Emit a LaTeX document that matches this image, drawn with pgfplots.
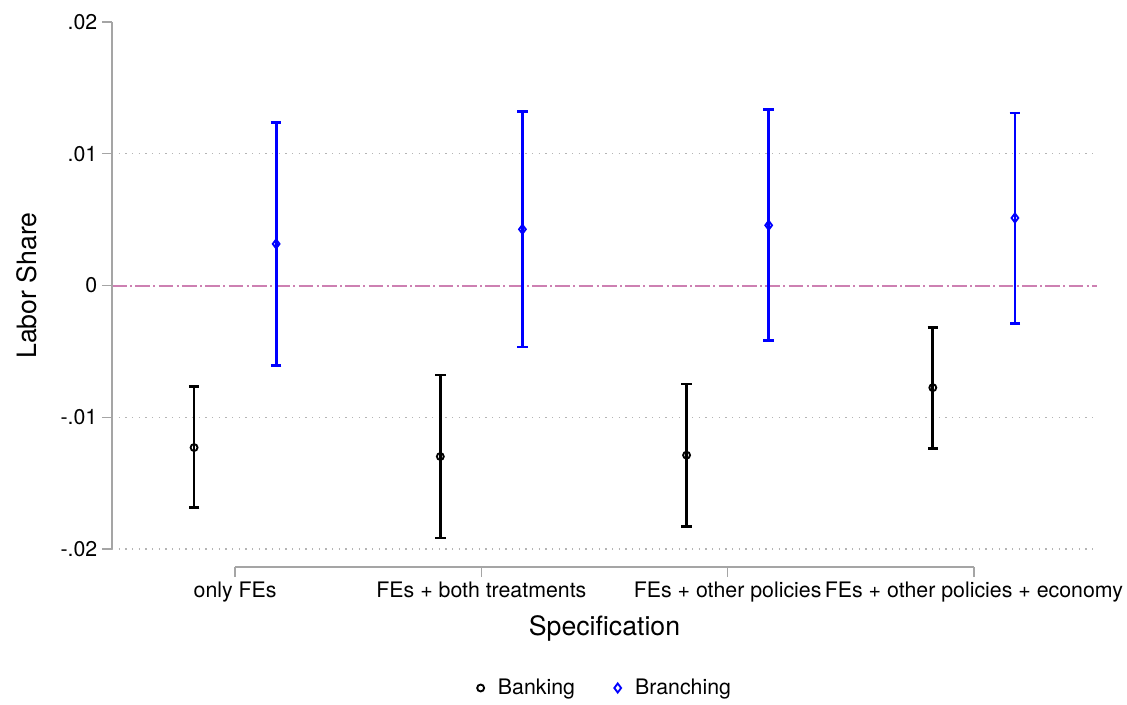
\documentclass[border=0pt]{standalone}
\usepackage{fontspec}
\setmainfont{TeX Gyre Heros}
\usepackage{pgfplots}
\usepackage{pgfplotstable}
\pgfplotsset{compat=1.18}
\definecolor{refline}{RGB}{205,128,178}
\definecolor{axgray}{RGB}{165,165,165}
\definecolor{gridgray}{RGB}{180,180,180}
\definecolor{sblue}{RGB}{0,0,255}

\pgfplotstableread{
x      y         hi        lo
0.8333 -0.012298 -0.007677 -0.016869
1.8333 -0.012980 -0.006793 -0.019167
2.8333 -0.012879 -0.007475 -0.018283
3.8333 -0.007753 -0.003182 -0.012348
}\banking
\pgfplotstableread{
x      y         hi        lo
1.1667 0.003157  0.012374  -0.006061
2.1667 0.004268  0.013232  -0.004672
3.1667 0.004571  0.013384  -0.004192
4.1667 0.005126  0.013081  -0.002879
}\branching

\begin{document}
\begin{tikzpicture}
\useasboundingbox (-84pt,-102.75pt) rectangle (761.25pt,425.25pt);
\begin{axis}[
  at={(0,0)}, anchor=south west,
  scale only axis, width=738.75pt, height=408.75pt,
  xmin=0.5, xmax=4.5, ymin=-0.021366, ymax=0.02,
  clip=false,
  scaled y ticks=false,
  axis x line*=bottom, axis y line*=left,
  axis line style={draw=none},
  xtick={1,2,3,4},
  xticklabels={only FEs, FEs + both treatments, FEs + other policies, FEs + other policies + economy},
  ytick={-0.02,-0.01,0.01},
  yticklabels={-.02,-.01,.01},
  extra y ticks={0,0.02},
  extra y tick labels={0,.02},
  extra y tick style={grid=none},
  ymajorgrids,
  grid style={gridgray, line width=0.9pt, dash pattern=on 0.9pt off 4.1pt},
  tick align=outside, major tick length=7.5pt,
  every tick/.style={axgray, line width=1.1pt},
  ticklabel style={font=\fontsize{16}{19}\selectfont, text=black},
  xlabel={Specification},
  ylabel={Labor Share},
  label style={font=\fontsize{20}{24}\selectfont},
  xlabel style={at={(axis description cs:0.5,-0.112)}, anchor=center},
  ylabel style={at={(axis description cs:-0.0863,0.5165)}, anchor=center, rotate=0},
  legend style={at={(axis description cs:0.5,-0.222)}, anchor=center, draw=none,
    font=\fontsize{16}{19}\selectfont, /tikz/every even column/.append style={column sep=26pt}},
  legend columns=2,
  legend image code/.code={\path[draw=none,fill=none] (-4pt,0pt) -- (11pt,0pt); \draw[#1] plot coordinates {(0pt,0pt)};},
  error bars/y dir=both, error bars/y explicit,
]
\draw[refline, line width=1.5pt, dash pattern=on 11pt off 2.5pt on 1.5pt off 2.5pt]
  (axis cs:0.5,0) -- (axis cs:4.5,0);
\draw[axgray, line width=1.1pt] (axis cs:0.5,-0.02) -- (axis cs:0.5,0.02);
\draw[axgray, line width=1.1pt] (axis cs:1,-0.021366) -- (axis cs:4,-0.021366);

\addplot[only marks, black, mark=o, mark size=2.6pt,
  mark options={line width=1.4pt, fill=white, solid},
  error bars/error bar style={line width=2pt, black},
  error bars/error mark options={rotate=90, line width=2pt, mark size=3.9pt, black}]
  table[x=x, y=y, y error plus expr=\thisrow{hi}-\thisrow{y}, y error minus expr=\thisrow{y}-\thisrow{lo}] {\banking};
\addlegendentry{Banking}

\addplot[only marks, sblue, mark=diamond, mark size=3.4pt,
  mark options={line width=1.4pt, fill=white, solid},
  error bars/error bar style={line width=2pt, sblue},
  error bars/error mark options={rotate=90, line width=2pt, mark size=3.9pt, sblue}]
  table[x=x, y=y, y error plus expr=\thisrow{hi}-\thisrow{y}, y error minus expr=\thisrow{y}-\thisrow{lo}] {\branching};
\addlegendentry{Branching}
\end{axis}
\end{tikzpicture}
\end{document}
